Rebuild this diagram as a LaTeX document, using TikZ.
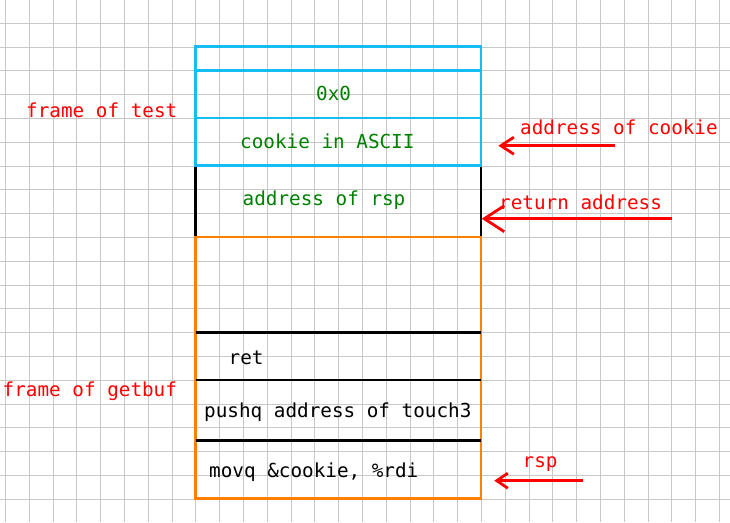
\documentclass[tikz,border=0pt]{standalone}
\usepackage{fontspec}
\setmonofont{DejaVu Sans Mono}
\usetikzlibrary{arrows.meta}
\definecolor{gridgray}{RGB}{200,200,200}
\definecolor{skycyan}{RGB}{20,190,245}
\definecolor{frameorange}{RGB}{255,128,0}
\definecolor{textgreen}{RGB}{0,128,0}
\definecolor{notered}{RGB}{255,0,0}
\tikzset{
  txt/.style={inner sep=0pt, anchor=base west, font=\ttfamily\fontsize{19.3}{23}\selectfont},
  gtxt/.style={txt, text=textgreen},
  btxt/.style={txt, text=black},
  rtxt/.style={txt, text=notered},
  cyanline/.style={draw=skycyan, line width=2.8pt},
  blackline/.style={draw=black, line width=2.6pt},
  orangeline/.style={draw=frameorange, line width=2.6pt},
  redarrow/.style={draw=notered, line width=2.8pt},
  gridline/.style={draw=gridgray, line width=1.2pt},
}
\begin{document}
\begin{tikzpicture}[x=1pt,y=-1pt]
\useasboundingbox (0,0) rectangle (730,522);
\fill[white] (0,0) rectangle (730,522);
% grid
\foreach \k in {0,...,30} {
  \pgfmathsetmacro{\gx}{round(5+23.8*\k)+0.5}
  \draw[gridline] (\gx,0) -- (\gx,522);
}
\foreach \k in {1,...,21} {
  \pgfmathsetmacro{\gy}{round(-1.1+23.8*\k)+0.5}
  \draw[gridline] (0,\gy) -- (730,\gy);
}
% orange frame of getbuf
\draw[orangeline] (195.7,237.1) rectangle (481,498.5);
\draw[blackline] (195.7,332.3) -- (481,332.3);
\draw[blackline] (195.7,379.9) -- (481,379.9);
\draw[blackline] (195.7,440.7) -- (481,440.7);
% black return-address cell sides
\draw[blackline] (195.7,165.7) -- (195.7,236);
\draw[blackline] (481,165.7) -- (481,236);
% cyan frame of test
\draw[cyanline] (195.7,46.7) rectangle (481,165.7);
\draw[cyanline] (195.7,70.5) -- (481,70.5);
\draw[cyanline] (195.7,118) -- (481,118);
% cell texts
\node[gtxt] (zero) at (316,100) {0x0};
\node[gtxt] (cookie) at (240,148.3) {cookie in ASCII};
\node[gtxt] (addrrsp) at (242.5,205) {address of rsp};
\node[btxt] (ret) at (228.5,364.3) {ret};
\node[btxt] (pushq) at (204,417.3) {pushq address of touch3};
\node[btxt] (movq) at (209,477.3) {movq \&cookie, \%rdi};
% frame labels
\node[rtxt] (ftest) at (26,117.3) {frame of test};
\node[rtxt] (fgetbuf) at (2.5,396.7) {frame of getbuf};
% pointer labels
\node[rtxt] (lcookie) at (520,134) {address of cookie};
\node[rtxt] (lret) at (499,209.3) {return address};
\node[rtxt] (lrsp) at (522.5,467.7) {rsp};
% arrows
\coordinate (a1s) at (615,145.7);
\coordinate (a1e) at (498.3,145.7);
\coordinate (a2s) at (672.3,218.7);
\coordinate (a2e) at (481.7,218.7);
\coordinate (a3s) at (583.3,480.7);
\coordinate (a3e) at (494.3,480.7);
\draw[redarrow, -{Straight Barb[length=13pt,width=17pt,line width=2.8pt]}] (a1s) -- (a1e);
\draw[redarrow, -{Straight Barb[length=20pt,width=26pt,line width=2.8pt]}] (a2s) -- (a2e);
\draw[redarrow, -{Straight Barb[length=11pt,width=15pt,line width=2.8pt]}] (a3s) -- (a3e);
\end{tikzpicture}
\end{document}
